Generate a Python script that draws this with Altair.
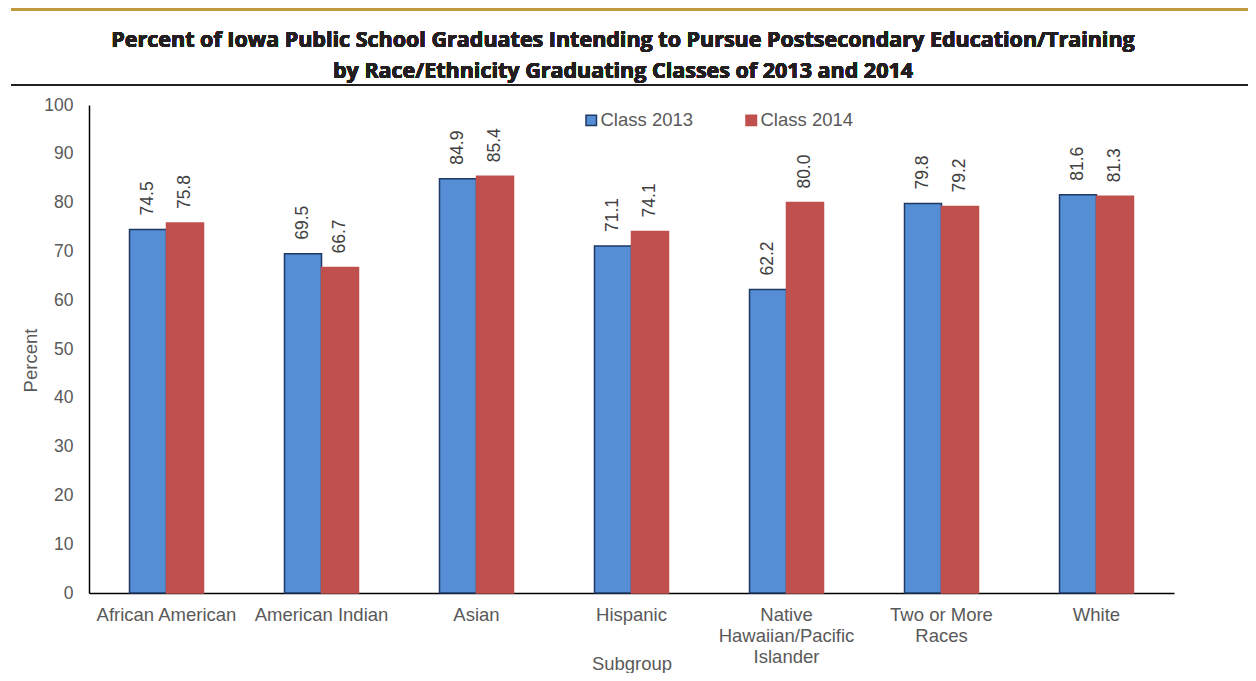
import altair as alt
import pandas as pd

categories = ["African American", "American Indian", "Asian", "Hispanic",
              "Native Hawaiian/Pacific Islander", "Two or More Races", "White"]
class_2013 = [74.5, 69.5, 84.9, 71.1, 62.2, 79.8, 81.6]
class_2014 = [75.8, 66.7, 85.4, 74.1, 80.0, 79.2, 81.3]
series = ["Class 2013", "Class 2014"]
y_ticks = [0, 10, 20, 30, 40, 50, 60, 70, 80, 90, 100]
title_lines = ["Percent of Iowa Public School Graduates Intending to Pursue Postsecondary Education/Training",
               "by Race/Ethnicity Graduating Classes of 2013 and 2014"]

rows = []
for c, a, b in zip(categories, class_2013, class_2014):
    rows.append({"Subgroup": c, "Year": series[0], "Percent": a})
    rows.append({"Subgroup": c, "Year": series[1], "Percent": b})
df = pd.DataFrame(rows)

FONT = "Liberation Sans"
W, H = 1085, 488

label_expr = ("datum.value == 'Native Hawaiian/Pacific Islander' ? ['Native','Hawaiian/Pacific','Islander'] : "
              "datum.value == 'Two or More Races' ? ['Two or More','Races'] : datum.value")

x_enc = alt.X("Subgroup:N", sort=categories,
              scale=alt.Scale(paddingInner=0.5226, paddingOuter=0.2613),
              axis=alt.Axis(title="Subgroup", labelAngle=0, labelFont=FONT, labelFontSize=18.5,
                            labelColor="#595959", labelPadding=12, labelExpr=label_expr,
                            labelLineHeight=21, ticks=False, tickSize=0,
                            domainColor="#000000", domainWidth=1.5,
                            titleFont=FONT, titleFontSize=18.5, titleFontWeight="normal",
                            titleColor="#595959", titleY=70, titleBaseline="middle"))
xoff_enc = alt.XOffset("Year:N", sort=series,
                       scale=alt.Scale(paddingInner=0, paddingOuter=0))
y_enc = alt.Y("Percent:Q", scale=alt.Scale(domain=[0, 100], nice=False),
              axis=alt.Axis(values=y_ticks, title="Percent", grid=False, ticks=False, tickSize=0,
                            labelFont=FONT, labelFontSize=17.5, labelColor="#595959", labelPadding=16,
                            domainColor="#000000", domainWidth=1.5,
                            titleFont=FONT, titleFontSize=18.5, titleFontWeight="normal",
                            titleColor="#595959", titleX=-59, titleY=255,
                            titleAngle=270, titleBaseline="middle"))

bars = alt.Chart(df).mark_bar(strokeWidth=1.5).encode(
    x=x_enc,
    xOffset=xoff_enc,
    y=y_enc,
    fill=alt.Fill("Year:N", sort=series,
                  scale=alt.Scale(domain=series, range=["#558ED5", "#C0504D"]),
                  legend=alt.Legend(title=None, orient="none", direction="horizontal",
                                    legendX=493, legendY=6, symbolType="square",
                                    symbolSize=110, symbolStrokeWidth=1.5,
                                    labelFont=FONT, labelFontSize=18.5, labelColor="#595959",
                                    labelOffset=0, columnPadding=48)),
    stroke=alt.Stroke("Year:N", sort=series,
                      scale=alt.Scale(domain=series, range=["#1F3864", "#C0504D"]),
                      legend=None),
)

labels = alt.Chart(df).mark_text(angle=270, align="left", baseline="middle", dx=14,
                                 font=FONT, fontSize=17.5, color="#404040").encode(
    x=alt.X("Subgroup:N", sort=categories),
    xOffset=alt.XOffset("Year:N", sort=series),
    y=alt.Y("Percent:Q"),
    text=alt.Text("Percent:Q", format=".1f"),
)

gold = alt.Chart(df).mark_rule(color="#BF9B3C", strokeWidth=5).encode(
    x=alt.value(-78), x2=alt.value(1170), y=alt.value(-96.5))
black = alt.Chart(df).mark_rule(color="#231F20", strokeWidth=2).encode(
    x=alt.value(-78), x2=alt.value(1170), y=alt.value(-20))

title_layers = []
for line, ypos in zip(title_lines, [-64, -33]):
    title_layers.append(
        alt.Chart(df).mark_text(text=line, font="Open Sans", fontSize=21.5, fontWeight="bold",
                                color="#231F20", align="center", baseline="middle").encode(
            x=alt.value(534), y=alt.value(ypos)))

chart = alt.layer(gold, black, *title_layers, bars, labels).properties(
    width=W, height=H,
    autosize=alt.AutoSizeParams(type="none"),
    padding={"left": 81, "top": 97, "right": 74, "bottom": 80},
).configure(background="white", view=alt.ViewConfig(stroke="transparent", strokeWidth=0))

chart.save("out.html", embed_options={"renderer": "svg", "actions": False})
